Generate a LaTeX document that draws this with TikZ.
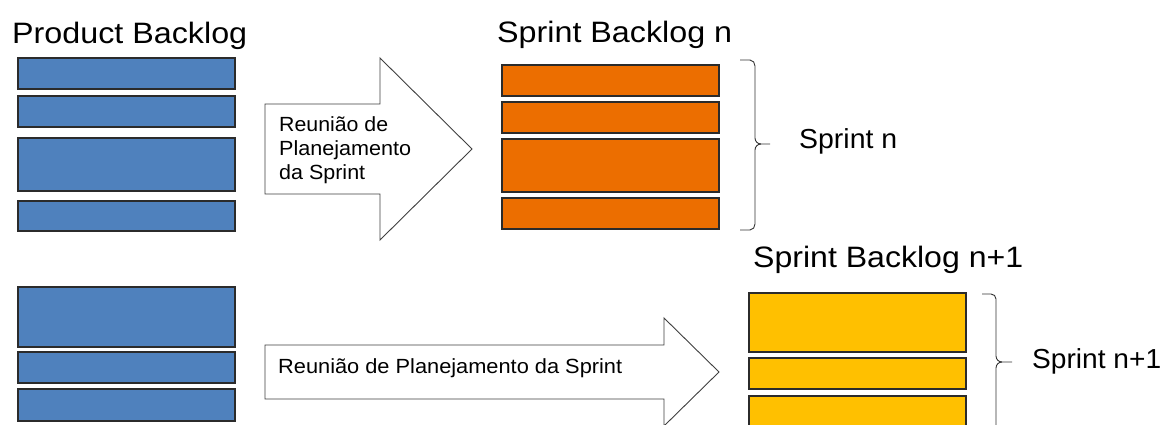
\documentclass[tikz,border=0pt]{standalone}
\usepackage{fontspec}
\setmainfont{Liberation Sans}
\usepackage{graphicx}
\definecolor{pblue}{HTML}{4F81BD}
\definecolor{sorange}{HTML}{EC6E00}
\definecolor{syellow}{HTML}{FFC000}
\definecolor{edgegray}{HTML}{2B2B2B}
% text of a given size, stretched to a given width
\newcommand{\wtxt}[3]{\resizebox{#1}{\height}{\fontsize{#2}{#2}\selectfont #3}}

\begin{document}
\begin{tikzpicture}[x=1pt,y=-1pt,
  item/.style={draw=edgegray, line width=1.1pt, anchor=north west, inner sep=0pt,
               outer sep=0pt, minimum width=217pt},
  lbl/.style={anchor=base west, inner sep=0pt, text=black},
  outline/.style={draw=black!75, line width=0.9pt, fill=white, line join=miter},
  brace/.style={draw=black!80, line width=0.9pt}]
\useasboundingbox (0,0) rectangle (1163,425);
\clip (0,0) rectangle (1163,425);
\fill[white] (0,0) rectangle (1163,425);

% ---- titles
\node[lbl] (tpb) at (12,43.5)  {\wtxt{235pt}{29.5}{Product Backlog}};
\node[lbl] (tsb) at (497,42.5) {\wtxt{235pt}{29.5}{Sprint Backlog n}};
\node[lbl] (tsc) at (753,267.5){\wtxt{270pt}{29.5}{Sprint Backlog n+1}};

% ---- product backlog (upper)
\node[item, fill=pblue, minimum height=31pt] (pb1) at (18,58)  {};
\node[item, fill=pblue, minimum height=31pt] (pb2) at (18,96)  {};
\node[item, fill=pblue, minimum height=53pt] (pb3) at (18,138) {};
\node[item, fill=pblue, minimum height=30pt] (pb4) at (18,201) {};

% ---- sprint backlog n
\node[item, fill=sorange, minimum height=31pt] (sb1) at (502,65)  {};
\node[item, fill=sorange, minimum height=31pt] (sb2) at (502,102) {};
\node[item, fill=sorange, minimum height=53pt] (sb3) at (502,139) {};
\node[item, fill=sorange, minimum height=31pt] (sb4) at (502,198) {};

% ---- product backlog (lower)
\node[item, fill=pblue, minimum height=60pt] (pc1) at (18,287) {};
\node[item, fill=pblue, minimum height=31pt] (pc2) at (18,352) {};
\node[item, fill=pblue, minimum height=32pt] (pc3) at (18,389) {};

% ---- sprint backlog n+1
\node[item, fill=syellow, minimum height=59pt] (sc1) at (749,293) {};
\node[item, fill=syellow, minimum height=31pt] (sc2) at (749,358) {};
\node[item, fill=syellow, minimum height=40pt] (sc3) at (749,396) {};

% ---- planning arrows
\draw[outline] (265,104) -- (380,104) -- (380,58) -- (472,149) -- (380,240)
  -- (380,194) -- (265,194) -- cycle;
\node[lbl] (m1) at (279,132) {\wtxt{109pt}{20.5}{Reunião de}};
\node[lbl] (m2) at (279,156) {\wtxt{132pt}{20.5}{Planejamento}};
\node[lbl] (m3) at (279,180) {\wtxt{86pt}{20.5}{da Sprint}};

\draw[outline] (265,345) -- (664,345) -- (664,318) -- (719,372) -- (664,426)
  -- (664,399) -- (265,399) -- cycle;
\node[lbl] (m4) at (278,373) {\wtxt{344pt}{20.5}{Reunião de Planejamento da Sprint}};

% ---- braces
\draw[brace] (740,60) -- (750,60) to[out=0,in=90] (755,66) -- (755,138)
  to[out=-90,in=180] (761,144) -- (770,144);
\draw[brace] (761,144) to[out=180,in=90] (755,150) -- (755,224)
  to[out=-90,in=0] (750,230) -- (740,230);
\node[lbl] (sn) at (799,148.5) {\wtxt{98pt}{27.5}{Sprint n}};

\draw[brace] (982,294) -- (991,294) to[out=0,in=90] (996,299) -- (996,356)
  to[out=-90,in=180] (1002,362) -- (1012,362);
\draw[brace] (1002,362) to[out=180,in=90] (996,368) -- (996,430);
\node[lbl] (sn1) at (1032,368.5) {\wtxt{129pt}{27.5}{Sprint n+1}};
\end{tikzpicture}
\end{document}
